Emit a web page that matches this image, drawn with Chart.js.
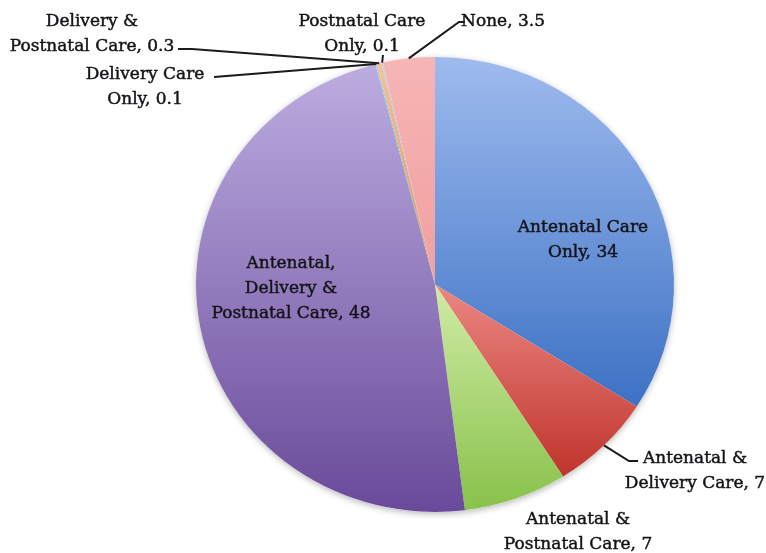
<!DOCTYPE html>
<html>
<head>
<meta charset="utf-8">
<script src="https://cdn.jsdelivr.net/npm/chart.js@4/dist/chart.umd.min.js"></script>
<style>
  html, body { margin: 0; padding: 0; background: #fff; }
  #wrap { width: 766px; height: 553px; }
</style>
</head>
<body>
<div id="wrap"><canvas id="chart1" width="766" height="553"></canvas></div>
<script>
// data
const categories = [
  "Antenatal Care Only",
  "Antenatal & Delivery Care",
  "Antenatal & Postnatal Care",
  "Antenatal, Delivery & Postnatal Care",
  "Delivery Care Only",
  "Delivery & Postnatal Care",
  "Postnatal Care Only",
  "None",
];
const values = [34, 7, 7, 48, 0.1, 0.3, 0.1, 3.5];

// how each category name wraps on the chart (value is added to the last line)
const labelBreaks = [
  ["Antenatal Care", "Only"],
  ["Antenatal &", "Delivery Care"],
  ["Antenatal &", "Postnatal Care"],
  ["Antenatal,", "Delivery &", "Postnatal Care"],
  ["Delivery Care", "Only"],
  ["Delivery &", "Postnatal Care"],
  ["Postnatal Care", "Only"],
  ["None"],
];

// light / dark ends of each slice gradient (Office 2007 style)
const sliceColors = [
  ["#9fbbee", "#3c71c4"],
  ["#ec8783", "#bf342c"],
  ["#d0eba6", "#88c24a"],
  ["#bcade0", "#694a9a"],
  ["#a3d5e5", "#4bacc6"],
  ["#f9c28e", "#e8893c"],
  ["#bccff0", "#94b2e0"],
  ["#f7b5b5", "#f09f9f"],
];

// label placement: centre x, first line centre y, leader path after the slice edge
const labelLayout = [
  { x: 583, y: 228 },
  { x: 695, y: 459, path: [[629, 461], [638, 461]] },
  { x: 578, y: 520 },
  { x: 291, y: 264 },
  { x: 145, y: 75, path: [[214, 77]] },
  { x: 92, y: 22, path: [[192, 49], [178, 49]] },
  { x: 362, y: 22, path: [[383, 55]] },
  { x: 503, y: 22, path: [[459, 22], [465, 22]] },
];

const SY = 227.5 / 239; // the pie is drawn a little flattened
const LINE_H = 25;
const FONT = '17px "DejaVu Serif"';

const total = values.reduce((a, b) => a + b, 0);

function sliceGradient(ctx) {
  const chart = ctx.chart;
  const area = chart.chartArea;
  const i = ctx.dataIndex;
  if (!area) return sliceColors[i][1];
  const cx = (area.left + area.right) / 2;
  const cy = (area.top + area.bottom) / 2;
  const r = Math.min(area.right - area.left, area.bottom - area.top) / 2;
  let before = 0;
  for (let k = 0; k < i; k++) before += values[k];
  const a0 = (before / total) * 2 * Math.PI;
  const a1 = ((before + values[i]) / total) * 2 * Math.PI;
  const ys = [cy, cy - r * Math.cos(a0), cy - r * Math.cos(a1)];
  if (a0 <= 0.0001) ys.push(cy - r);
  if (a0 <= Math.PI && a1 >= Math.PI) ys.push(cy + r);
  const top = Math.min(...ys);
  const bot = Math.max(...ys);
  const g = chart.ctx.createLinearGradient(0, top, 0, Math.max(bot, top + 1));
  g.addColorStop(0, sliceColors[i][0]);
  g.addColorStop(1, sliceColors[i][1]);
  return g;
}

const flatten = {
  id: "flatten",
  beforeDatasetsDraw(chart) {
    const arc = chart.getDatasetMeta(0).data[0];
    const ctx = chart.ctx;
    ctx.save();
    ctx.translate(arc.x, arc.y);
    ctx.scale(1, SY);
    ctx.translate(-arc.x, -arc.y);
    // soft shadow under the pie
    ctx.save();
    ctx.shadowColor = "rgba(0,0,0,0.28)";
    ctx.shadowBlur = 6;
    ctx.shadowOffsetY = 2;
    ctx.beginPath();
    ctx.arc(arc.x, arc.y, arc.outerRadius, 0, Math.PI * 2);
    ctx.fillStyle = "#fff";
    ctx.fill();
    ctx.restore();
  },
  afterDatasetsDraw(chart) {
    chart.ctx.restore();
  },
};

const sliceLabels = {
  id: "sliceLabels",
  afterDraw(chart) {
    const ctx = chart.ctx;
    const meta = chart.getDatasetMeta(0);
    ctx.save();
    ctx.font = FONT;
    ctx.fillStyle = "#141418";
    ctx.textAlign = "center";
    ctx.textBaseline = "middle";
    meta.data.forEach((arc, i) => {
      const lay = labelLayout[i];
      const lines = labelBreaks[i].slice();
      lines[lines.length - 1] += ", " + values[i];
      ctx.strokeStyle = "#141418";
      ctx.lineWidth = 0.45;
      lines.forEach((t, k) => {
        ctx.fillText(t, lay.x, lay.y + k * LINE_H);
        ctx.strokeText(t, lay.x, lay.y + k * LINE_H);
      });
      if (lay.path) {
        const mid = (arc.startAngle + arc.endAngle) / 2;
        const px = arc.x + arc.outerRadius * Math.cos(mid);
        const py = arc.y + SY * arc.outerRadius * Math.sin(mid);
        ctx.strokeStyle = "#1b1b1b";
        ctx.lineWidth = 2;
        ctx.beginPath();
        ctx.moveTo(px, py);
        lay.path.forEach(p => ctx.lineTo(p[0], p[1]));
        ctx.stroke();
      }
    });
    ctx.restore();
  },
};

new Chart(document.getElementById("chart1"), {
  type: "pie",
  data: {
    labels: categories,
    datasets: [
      {
        data: values,
        backgroundColor: sliceGradient,
        borderWidth: 0,
      },
    ],
  },
  options: {
    responsive: false,
    animation: false,
    layout: { padding: { left: 196, right: 92, top: 45.5, bottom: 29.5 } },
    plugins: {
      legend: { display: false },
      tooltip: { enabled: false },
    },
  },
  plugins: [flatten, sliceLabels],
});
</script>
</body>
</html>
